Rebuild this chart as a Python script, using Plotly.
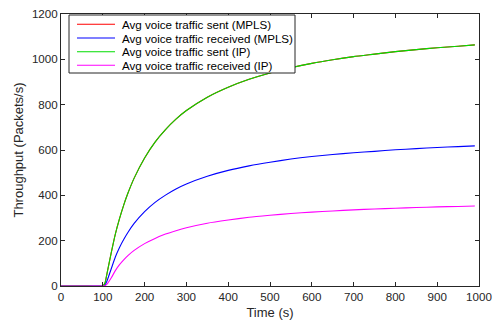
import plotly.graph_objects as go

# Simulation time (s)
time_s = [0, 50, 100, 105, 110, 120, 130, 140, 150, 160, 175, 200, 225, 250, 275,
          300, 350, 400, 450, 500, 550, 600, 650, 700, 750, 800, 850, 900, 950, 990]

# Average voice traffic sent (Packets/s) - MPLS and IP runs are identical
sent_mpls = [0, 0, 0, 12, 55, 145, 229, 297, 357, 409, 476, 565, 635, 690, 736,
             774, 833, 877, 912, 940, 963, 982, 998, 1012, 1023, 1034, 1043, 1051, 1058, 1064]
sent_ip = list(sent_mpls)

# Average voice traffic received (Packets/s)
recv_mpls = [0, 0, 0, 4, 22, 75, 128, 170, 205, 236, 276, 328, 369, 401, 428,
             450, 484, 510, 530, 546, 560, 571, 580, 588, 594, 601, 606, 611, 615, 618]
recv_ip = [0, 0, 0, 1, 8, 35, 68, 94, 115, 134, 157, 187, 210, 229, 244,
           257, 277, 291, 303, 312, 320, 326, 331, 336, 340, 343, 346, 349, 351, 353]

x_ticks = list(range(0, 1001, 100))
y_ticks = list(range(0, 1201, 200))

series_names = [
    "Avg voice traffic sent (MPLS)",
    "Avg voice traffic received (MPLS)",
    "Avg voice traffic sent (IP)",
    "Avg voice traffic received (IP)",
]
series_values = [sent_mpls, recv_mpls, sent_ip, recv_ip]
series_colors = ["#ff0000", "#0000ff", "#00dd00", "#ff00ff"]

FONT = "Liberation Sans, Arial, Helvetica, sans-serif"
INK = "#262626"

W, H = 494, 323
ML, MR, MT, MB = 61, 15, 14, 37
PW, PH = W - ML - MR, H - MT - MB


def px_to_paper(px, py):
    return (px - ML) / PW, (H - MB - py) / PH


fig = go.Figure()
for name, vals, color in zip(series_names, series_values, series_colors):
    fig.add_trace(go.Scatter(
        x=time_s, y=vals, name=name, mode="lines", showlegend=False,
        line=dict(color=color, width=1.1, shape="spline", smoothing=0.6),
    ))

# Compact boxed legend (MATLAB-style row spacing)
shapes, annotations = [], []
bx0, by0 = px_to_paper(69, 15)
bx1, by1 = px_to_paper(295, 73)
shapes.append(dict(type="rect", xref="paper", yref="paper",
                   x0=bx0, y0=by1, x1=bx1, y1=by0,
                   line=dict(color=INK, width=1), fillcolor="white", layer="above"))
row_y = [24.3, 38.0, 51.7, 65.3]
for name, color, ry in zip(series_names, series_colors, row_y):
    lx0, ly = px_to_paper(77, ry)
    lx1, _ = px_to_paper(115, ry)
    tx, _ = px_to_paper(120, ry)
    shapes.append(dict(type="line", xref="paper", yref="paper",
                       x0=lx0, x1=lx1, y0=ly, y1=ly,
                       line=dict(color=color, width=1.1), layer="above"))
    annotations.append(dict(xref="paper", yref="paper", x=tx, y=ly,
                            xanchor="left", yanchor="middle", showarrow=False,
                            text=name, font=dict(family=FONT, size=11.6, color="#000000")))

axis_common = dict(
    showline=True, linecolor=INK, linewidth=1,
    mirror="ticks", ticks="inside", ticklen=4, tickcolor=INK,
    showgrid=False, zeroline=False, automargin=False,
    tickfont=dict(family=FONT, size=11.6, color=INK),
)

fig.update_layout(
    width=W, height=H,
    margin=dict(l=ML, r=MR, t=MT, b=MB, autoexpand=False),
    paper_bgcolor="white", plot_bgcolor="white",
    font=dict(family=FONT, size=12, color=INK),
    xaxis=dict(range=[0, 1000], tickvals=x_ticks,
               title=dict(text="Time (s)", standoff=5, font=dict(family=FONT, size=13, color=INK)),
               **axis_common),
    yaxis=dict(range=[0, 1200], tickvals=y_ticks,
               title=dict(text="Throughput (Packets/s)", standoff=5,
                          font=dict(family=FONT, size=13, color=INK)),
               **axis_common),
    shapes=shapes,
    annotations=annotations,
    showlegend=False,
)

fig.write_html("out.html")
